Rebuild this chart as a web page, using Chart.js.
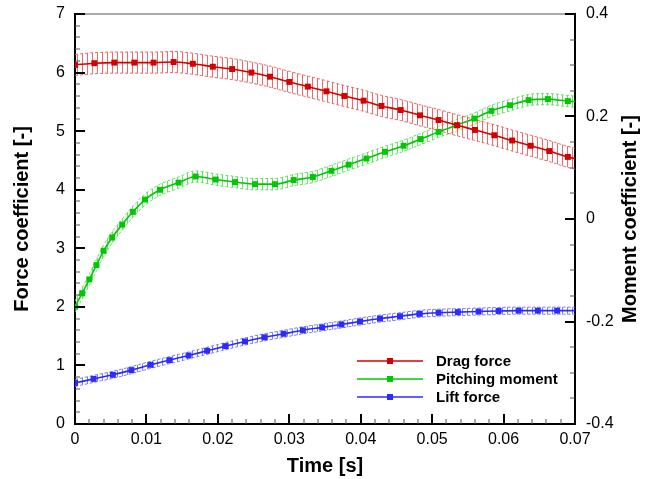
<!DOCTYPE html>
<html>
<head>
<meta charset="utf-8">
<script src="https://cdn.jsdelivr.net/npm/chart.js@4.4.0/dist/chart.umd.min.js"></script>
<style>
  html, body { margin: 0; padding: 0; background: #fff; }
  #wrap { width: 650px; height: 479px; }
</style>
</head>
<body>
<div id="wrap"><canvas id="myChart" width="650" height="479"></canvas></div>
<script>
// values
const dragTime = [0, 0.0027, 0.0055, 0.0083, 0.011, 0.0138, 0.0165, 0.0193, 0.022, 0.0247, 0.0273, 0.03, 0.0326,
  0.0352, 0.0377, 0.0404, 0.0429, 0.0456, 0.0483, 0.0509, 0.0535, 0.056, 0.0587, 0.0612, 0.0638, 0.0664, 0.069, 0.07];
const dragForce = [6.13, 6.16, 6.17, 6.17, 6.17, 6.18, 6.15, 6.1, 6.06, 6.0, 5.93, 5.84, 5.76,
  5.68, 5.6, 5.52, 5.43, 5.36, 5.27, 5.19, 5.1, 5.02, 4.93, 4.84, 4.75, 4.66, 4.56, 4.53];

const pitchTime = [0, 0.001, 0.002, 0.003, 0.004, 0.0052, 0.0066, 0.0081, 0.0098, 0.0119, 0.0145, 0.0169, 0.0197,
  0.0224, 0.0252, 0.028, 0.0306, 0.0333, 0.0359, 0.0383, 0.0408, 0.0434, 0.046, 0.0484, 0.0509, 0.0534, 0.0559,
  0.0583, 0.0609, 0.0635, 0.0662, 0.069, 0.07];
const pitchMoment = [-0.171, -0.145, -0.118, -0.09, -0.062, -0.036, -0.011, 0.014, 0.038, 0.057, 0.071, 0.083, 0.077,
  0.072, 0.068, 0.068, 0.076, 0.082, 0.094, 0.106, 0.118, 0.131, 0.143, 0.156, 0.17, 0.183, 0.196,
  0.211, 0.222, 0.232, 0.234, 0.23, 0.229];

const liftTime = [0, 0.0026, 0.0053, 0.0079, 0.0106, 0.0132, 0.0159, 0.0185, 0.0211, 0.0238, 0.0265, 0.0292, 0.0319,
  0.0346, 0.0373, 0.0399, 0.0427, 0.0455, 0.0482, 0.0509, 0.0536, 0.0565, 0.0593, 0.0621, 0.0648, 0.0675, 0.07];
const liftForce = [0.7, 0.77, 0.84, 0.92, 1.01, 1.09, 1.17, 1.25, 1.33, 1.41, 1.48, 1.54, 1.6,
  1.65, 1.7, 1.75, 1.8, 1.84, 1.88, 1.9, 1.91, 1.92, 1.93, 1.935, 1.935, 1.935, 1.935];

// half height of the error bars
const dragErr = 0.18;
const pitchErr = 0.011;
const liftErr = 0.06;

const seriesNames = ["Drag force", "Pitching moment", "Lift force"];

// axis ticks
const timeTicks = [0, 0.01, 0.02, 0.03, 0.04, 0.05, 0.06, 0.07];
const forceTicks = [0, 1, 2, 3, 4, 5, 6, 7];
const momentTicks = [-0.4, -0.2, 0, 0.2, 0.4];

const red = "#d40000";
const green = "#00c800";
const blue = "#2b2bff";

const numFmt = (v) => String(Number(v.toFixed(3)));

function toPoints(times, values, shift) {
  return times.map((t, i) => ({ x: t, y: values[i] + shift }));
}

// vertical hatch used to imitate the dense error bars
function hatch(color) {
  const c = document.createElement("canvas");
  c.width = 5;
  c.height = 4;
  const g = c.getContext("2d");
  g.fillStyle = color;
  g.fillRect(2, 0, 1, 4);
  return g.createPattern(c, "repeat");
}

function bandPair(times, values, err, color, axis) {
  const common = {
    pointRadius: 0,
    borderWidth: 1,
    borderColor: color,
    borderDash: [3, 2],
    cubicInterpolationMode: "monotone",
    yAxisID: axis,
    order: 10,
  };
  return [
    { ...common, data: toPoints(times, values, err), fill: "+1", backgroundColor: hatch(color) },
    { ...common, data: toPoints(times, values, -err), fill: false },
  ];
}

function lineSet(label, times, values, color, axis) {
  const last = times.length - 1;
  return {
    label: label,
    data: toPoints(times, values, 0),
    borderColor: color,
    backgroundColor: color,
    borderWidth: 1.6,
    pointStyle: "rect",
    pointRadius: (ctx) => (ctx.dataIndex === last ? 0 : 4.2),
    pointBorderWidth: 0,
    cubicInterpolationMode: "monotone",
    fill: false,
    yAxisID: axis,
    order: 1,
  };
}

const tickSets = [
  { id: "x", vals: timeTicks, sub: 5 },
  { id: "y", vals: forceTicks, sub: 5 },
  { id: "y2", vals: momentTicks, sub: 4 },
];

const axisDecor = {
  id: "axisDecor",
  afterDraw(chart) {
    const c = chart.ctx;
    const a = chart.chartArea;
    c.save();
    // grey top frame
    c.fillStyle = "#aaaaaa";
    c.fillRect(a.left, a.top - 1, a.right - a.left, 2);

    // inward ticks, major and minor
    tickSets.forEach((set) => {
      const s = chart.scales[set.id];
      const mark = (val, len, w, col) => {
        const p = Math.round(s.getPixelForValue(val));
        c.fillStyle = col;
        if (set.id === "x") {
          c.fillRect(p - w / 2, a.bottom - len, w, len);
        } else if (set.id === "y") {
          c.fillRect(a.left, p - w / 2, len, w);
        } else {
          c.fillRect(a.right - len, p - w / 2, len, w);
        }
      };
      set.vals.forEach((v, i) => {
        mark(v, 10, 2, "#000");
        if (i < set.vals.length - 1) {
          const step = (set.vals[i + 1] - v) / set.sub;
          for (let k = 1; k < set.sub; k++) mark(v + k * step, 5, 1, "#555");
        }
      });
    });
    c.restore();

    // right axis title, reading upward
    c.save();
    c.fillStyle = "#000";
    c.font = "bold 20px 'Liberation Sans', Arial, sans-serif";
    c.textAlign = "center";
    c.textBaseline = "middle";
    c.translate(a.right + 55, (a.top + a.bottom) / 2);
    c.rotate(-Math.PI / 2);
    c.fillText("Moment coefficient [-]", 0, 0);
    c.restore();

    // legend
    const colors = [red, green, blue];
    c.save();
    c.font = "bold 15px 'Liberation Sans', Arial, sans-serif";
    c.textBaseline = "middle";
    seriesNames.forEach((name, i) => {
      const y = a.bottom - 63 + i * 18;
      const x0 = a.right - 218;
      const x1 = a.right - 152;
      c.strokeStyle = colors[i];
      c.lineWidth = 1.6;
      c.beginPath();
      c.moveTo(x0, y);
      c.lineTo(x1, y);
      c.stroke();
      c.fillStyle = colors[i];
      c.fillRect((x0 + x1) / 2 - 3, y - 3, 6, 6);
      c.fillStyle = "#000";
      c.fillText(name, a.right - 139, y + 1);
    });
    c.restore();
  },
};

const tickFont = { family: "'Liberation Sans', Arial, sans-serif", size: 16 };
const titleFont = { family: "'Liberation Sans', Arial, sans-serif", size: 20, weight: "bold" };

const ctx = document.getElementById("myChart").getContext("2d");
const myChart = new Chart(ctx, {
  type: "line",
  data: {
    datasets: [
      ...bandPair(dragTime, dragForce, dragErr, "rgba(235,90,90,0.9)", "y"),
      ...bandPair(pitchTime, pitchMoment, pitchErr, "rgba(90,220,90,0.9)", "y2"),
      ...bandPair(liftTime, liftForce, liftErr, "rgba(110,110,255,0.9)", "y"),
      lineSet(seriesNames[2], liftTime, liftForce, blue, "y"),
      lineSet(seriesNames[0], dragTime, dragForce, red, "y"),
      lineSet(seriesNames[1], pitchTime, pitchMoment, green, "y2"),
    ],
  },
  options: {
    responsive: false,
    animation: false,
    layout: { padding: { top: 14 } },
    plugins: { legend: { display: false }, tooltip: { enabled: false } },
    scales: {
      x: {
        type: "linear",
        min: 0,
        max: 0.07,
        grid: { display: false, drawTicks: false },
        border: { display: true, color: "#000", width: 2 },
        ticks: { stepSize: 0.01, padding: 6, color: "#000", font: tickFont, callback: numFmt, maxRotation: 0 },
        title: { display: true, text: "Time [s]", color: "#000", font: titleFont, padding: { top: 2, bottom: 1 } },
        afterFit: (s) => { s.height = 55; s.paddingLeft = 0; s.paddingRight = 0; },
      },
      y: {
        position: "left",
        min: 0,
        max: 7,
        grid: { display: false, drawTicks: false },
        border: { display: true, color: "#000", width: 2 },
        ticks: { stepSize: 1, padding: 10, color: "#000", font: tickFont },
        title: { display: true, text: "Force coefficient [-]", color: "#000", font: titleFont, padding: { top: 10, bottom: 0 } },
        afterFit: (s) => { s.width = 75; s.paddingTop = 0; s.paddingBottom = 0; },
      },
      y2: {
        position: "right",
        min: -0.4,
        max: 0.4,
        grid: { display: false, drawTicks: false },
        border: { display: true, color: "#000", width: 2 },
        ticks: { stepSize: 0.2, padding: 11, color: "#000", font: tickFont, callback: numFmt },
        afterFit: (s) => { s.width = 75; s.paddingTop = 0; s.paddingBottom = 0; },
      },
    },
  },
  plugins: [axisDecor],
});
</script>
</body>
</html>
